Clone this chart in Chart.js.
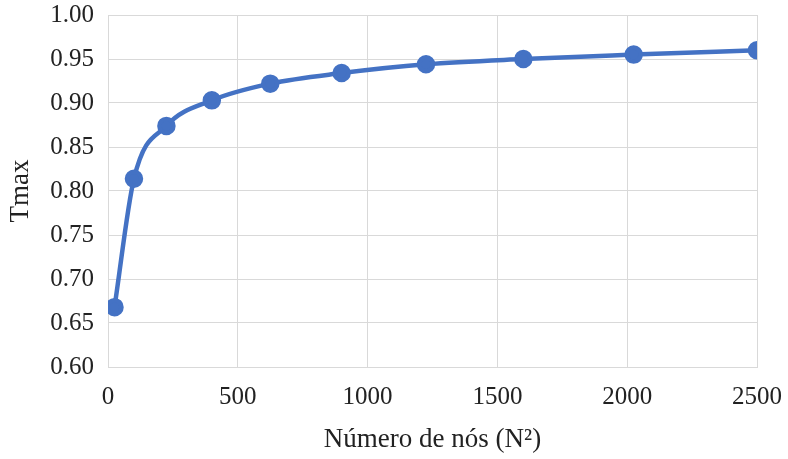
<!DOCTYPE html>
<html>
<head>
<meta charset="utf-8">
<script src="https://cdn.jsdelivr.net/npm/chart.js@4/dist/chart.umd.min.js"></script>
<style>
  html, body { margin: 0; padding: 0; background: #fff; }
  #wrap { width: 788px; height: 459px; }
</style>
</head>
<body>
<div id="wrap"><canvas id="chart" width="788" height="459"></canvas></div>
<script>
// Tmax vs número de nós (N²)
const nodes = [25, 100, 225, 400, 625, 900, 1225, 1600, 2025, 2500];
const tmax = [0.668, 0.814, 0.874, 0.903, 0.922, 0.934, 0.944, 0.950, 0.955, 0.960];

const xTitle = 'Número de nós (N²)';
const yTitle = 'Tmax';

const FONT = 'Liberation Serif, Times New Roman, serif';
const GRID = '#d9d9d9';

new Chart(document.getElementById('chart'), {
  type: 'line',
  data: {
    datasets: [{
      data: nodes.map((n, i) => ({ x: n, y: tmax[i] })),
      borderColor: '#4472C4',
      backgroundColor: '#4472C4',
      borderWidth: 4.5,
      pointRadius: 7,
      pointHoverRadius: 7,
      cubicInterpolationMode: 'monotone',
      fill: false,
    }],
  },
  options: {
    responsive: false,
    animation: false,
    layout: { padding: { top: 15, right: 31, bottom: 0, left: 0 } },
    plugins: { legend: { display: false }, tooltip: { enabled: false } },
    scales: {
      x: {
        type: 'linear',
        min: 0,
        max: 2500,
        ticks: { stepSize: 500, padding: 15, color: '#222', font: { family: FONT, size: 25 }, callback: (v) => String(v) },
        grid: { color: GRID, drawTicks: false },
        border: { color: GRID },
        title: { display: true, text: xTitle, color: '#222', font: { family: FONT, size: 27 }, padding: { top: 0, bottom: 3 } },
        afterFit: (s) => { s.height = 92; s.paddingLeft = 0; s.paddingRight = 0; },
      },
      y: {
        min: 0.6,
        max: 1.0,
        ticks: {
          stepSize: 0.05,
          padding: 14,
          color: '#222',
          font: { family: FONT, size: 25 },
          callback: (v) => v.toFixed(2),
        },
        grid: { color: GRID, drawTicks: false },
        border: { color: GRID },
        title: { display: true, text: yTitle, color: '#222', font: { family: FONT, size: 27 }, padding: { top: 5, bottom: 0 } },
        afterFit: (s) => { s.width = 108; s.paddingTop = 0; s.paddingBottom = 0; },
      },
    },
  },
});
</script>
</body>
</html>
